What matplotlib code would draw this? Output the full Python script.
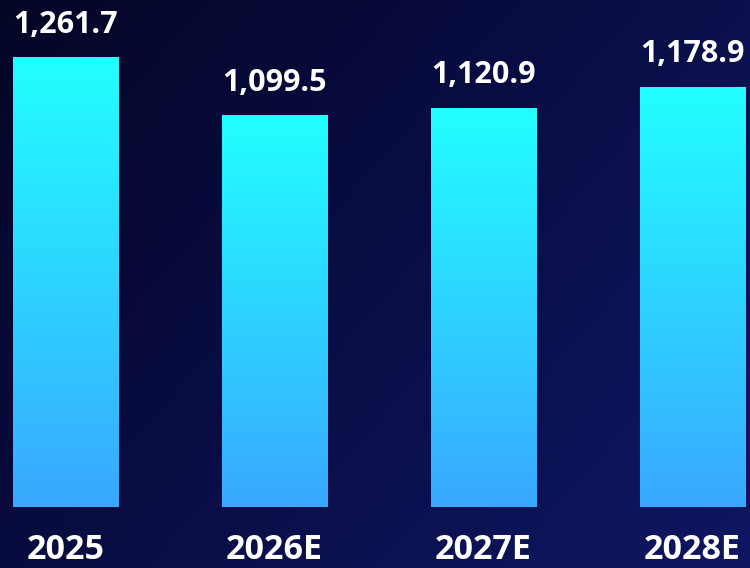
import numpy as np
import matplotlib.pyplot as plt
from matplotlib.colors import LinearSegmentedColormap

categories = ["2025", "2026E", "2027E", "2028E"]
values = [1261.7, 1099.5, 1120.9, 1178.9]
value_labels = ["1,261.7", "1,099.5", "1,120.9", "1,178.9"]

FONT = ["Open Sans", "DejaVu Sans"]


def main():
    fig = plt.figure(figsize=(7.5, 5.68), dpi=100)
    ax = fig.add_axes([0, 0, 1, 1])
    ax.set_xlim(-0.3136, 3.277)
    ax.set_ylim(-171.4, 1424.6)
    ax.axis("off")

    # background: diagonal dark navy gradient
    bg = LinearSegmentedColormap.from_list("bg", ["#040726", "#0a0d45", "#0f1763"])
    yy, xx = np.mgrid[0:1:200j, 0:1:200j]
    grad = (xx * 0.6 + yy * 0.4)
    ax.imshow(grad, cmap=bg, extent=[-0.3136, 3.277, -171.4, 1424.6],
              origin="upper", aspect="auto", zorder=0)

    bar_cmap = LinearSegmentedColormap.from_list("bar", ["#39a8ff", "#22ffff"])
    width = 0.503
    x = np.arange(len(categories))
    bars = ax.bar(x, values, width=width, color="none", zorder=2)
    vgrad = np.linspace(0, 1, 256).reshape(-1, 1)
    for b, v in zip(bars, values):
        x0 = b.get_x()
        ax.imshow(vgrad, cmap=bar_cmap, extent=[x0, x0 + width, 0, v],
                  origin="lower", aspect="auto", zorder=3)

    for xi, v, lab in zip(x, values, value_labels):
        ax.annotate(lab, (xi, v), xytext=(0, 25), textcoords="offset pixels",
                    ha="center", va="baseline", color="white", fontsize=22,
                    fontweight="bold", family=FONT, zorder=4)

    for xi, cat in zip(x, categories):
        ax.text(xi, -120, cat, ha="center", va="center", color="white",
                fontsize=24.5, fontweight="bold", family=FONT, zorder=4)

    fig.savefig("out.png", dpi=100)
    plt.close(fig)


if __name__ == "__main__":
    main()
